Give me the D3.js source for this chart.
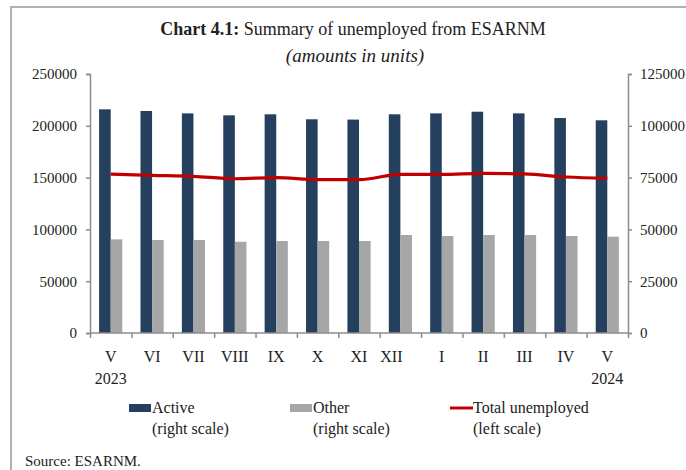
<!DOCTYPE html>
<html>
<head>
<meta charset="utf-8">
<script src="https://cdn.jsdelivr.net/npm/d3@7/dist/d3.min.js"></script>
<style>
  body { margin: 0; background: #fff; }
  svg text { font-family: "Liberation Serif", "DejaVu Serif", serif; fill: #222; }
</style>
</head>
<body>
<svg id="chart" width="686" height="470"></svg>
<script>
// months, May 2023 .. May 2024
const months = ["V", "VI", "VII", "VIII", "IX", "X", "XI", "XII", "I", "II", "III", "IV", "V"];
const years = ["2023", "", "", "", "", "", "", "", "", "", "", "", "2024"];
// right scale
const active = [107950, 107150, 106000, 105050, 105550, 103150, 103000, 105550, 106000, 106800, 106000, 103750, 102650];
const other = [45200, 44900, 44900, 44050, 44400, 44400, 44400, 47300, 46800, 47300, 47300, 46800, 46500];
// left scale
const total = [153300, 152200, 151200, 148900, 149900, 148000, 148000, 153150, 153150, 154150, 153500, 150600, 149300];
const leftTicks = [0, 50000, 100000, 150000, 200000, 250000];
const rightTicks = [0, 25000, 50000, 75000, 100000, 125000];

const svg = d3.select("#chart");
const margin = {left: 90, right: 58, top: 74, bottom: 137};
const W = 686, H = 470;
const x0 = margin.left, x1 = W - margin.right;
const yTop = margin.top, yBot = H - margin.bottom;

const x = d3.scaleBand().domain(d3.range(months.length)).range([x0, x1]);
const yL = d3.scaleLinear().domain([0, 250000]).range([yBot, yTop]);
const yR = d3.scaleLinear().domain([0, 125000]).range([yBot, yTop]);
const barW = x.bandwidth() * 0.28;

// frame
svg.append("path").attr("d", `M11,${H} V7 H${W}`)
  .attr("fill", "none").attr("stroke", "#b0b0b0").attr("stroke-width", 2);

// title
const title = svg.append("text").attr("x", 353).attr("y", 35)
  .attr("text-anchor", "middle").style("font-size", "18px");
title.append("tspan").attr("font-weight", "bold").text("Chart 4.1:");
title.append("tspan").text(" Summary of unemployed from ESARNM");
svg.append("text").attr("x", 355).attr("y", 62).attr("text-anchor", "middle")
  .style("font-size", "19px").style("font-style", "italic").text("(amounts in units)");

// bars
svg.append("g").selectAll("rect").data(active).join("rect")
  .attr("x", (d, i) => x(i) + x.bandwidth() / 2 - barW)
  .attr("y", d => yR(d)).attr("width", barW).attr("height", d => yBot - yR(d))
  .attr("fill", "#253f5f");
svg.append("g").selectAll("rect").data(other).join("rect")
  .attr("x", (d, i) => x(i) + x.bandwidth() / 2)
  .attr("y", d => yR(d)).attr("width", barW).attr("height", d => yBot - yR(d))
  .attr("fill", "#a6a6a6");

// line
const line = d3.line()
  .x((d, i) => x(i) + x.bandwidth() / 2)
  .y(d => yL(d))
  .curve(d3.curveMonotoneX);
svg.append("path").datum(total).attr("d", line)
  .attr("fill", "none").attr("stroke", "#c00000").attr("stroke-width", 3.2);

// axes
const axisColor = "#8c8c8c";
const gL = svg.append("g").attr("transform", `translate(${x0},0)`)
  .call(d3.axisLeft(yL).tickValues(leftTicks).tickSize(4).tickPadding(9).tickFormat(d3.format("d")));
const gR = svg.append("g").attr("transform", `translate(${x1},0)`)
  .call(d3.axisRight(yR).tickValues(rightTicks).tickSize(4).tickPadding(8).tickFormat(d3.format("d")));
const xb = d3.scaleLinear().domain([0, months.length]).range([x0, x1]);
const gX = svg.append("g").attr("transform", `translate(0,${yBot})`)
  .call(d3.axisBottom(xb).tickValues(d3.range(months.length + 1)).tickSize(5).tickFormat(""));
[gL, gR, gX].forEach(g => {
  g.select(".domain").attr("stroke", axisColor).attr("stroke-width", 1.5);
  g.selectAll(".tick line").attr("stroke", axisColor).attr("stroke-width", 1.5);
  g.selectAll("text").style("font-size", "15px").attr("fill", "#222")
    .style("font-family", "'Liberation Serif', serif");
});
gX.select(".domain").attr("d", `M${x0},0H${x1}`);

// month labels
svg.append("g").selectAll("text").data(months).join("text")
  .attr("x", (d, i) => x(i) + x.bandwidth() / 2 - (d === "XII" ? 9 : 0))
  .attr("y", 362).attr("text-anchor", "middle").style("font-size", "16px").text(d => d);
svg.append("g").selectAll("text").data(years).join("text")
  .attr("x", (d, i) => x(i) + x.bandwidth() / 2)
  .attr("y", 384).attr("text-anchor", "middle").style("font-size", "16px").text(d => d);

// legend
const legend = [
  {name: "Active", sub: "(right scale)", color: "#253f5f", type: "bar", x: 129},
  {name: "Other", sub: "(right scale)", color: "#a6a6a6", type: "bar", x: 290},
  {name: "Total unemployed", sub: "(left scale)", color: "#c00000", type: "line", x: 450}
];
const lg = svg.append("g").selectAll("g").data(legend).join("g")
  .attr("transform", d => `translate(${d.x},0)`);
lg.filter(d => d.type === "bar").append("rect")
  .attr("x", 0).attr("y", 404).attr("width", 22).attr("height", 8).attr("fill", d => d.color);
lg.filter(d => d.type === "line").append("line")
  .attr("x1", 0).attr("x2", 23).attr("y1", 408).attr("y2", 408)
  .attr("stroke", d => d.color).attr("stroke-width", 3);
lg.append("text").attr("x", 23).attr("y", 413).style("font-size", "16px").text(d => d.name);
lg.append("text").attr("x", 23).attr("y", 434).style("font-size", "16px").text(d => d.sub);

svg.append("text").attr("x", 25).attr("y", 466).style("font-size", "15px").text("Source: ESARNM.");
</script>
</body>
</html>
